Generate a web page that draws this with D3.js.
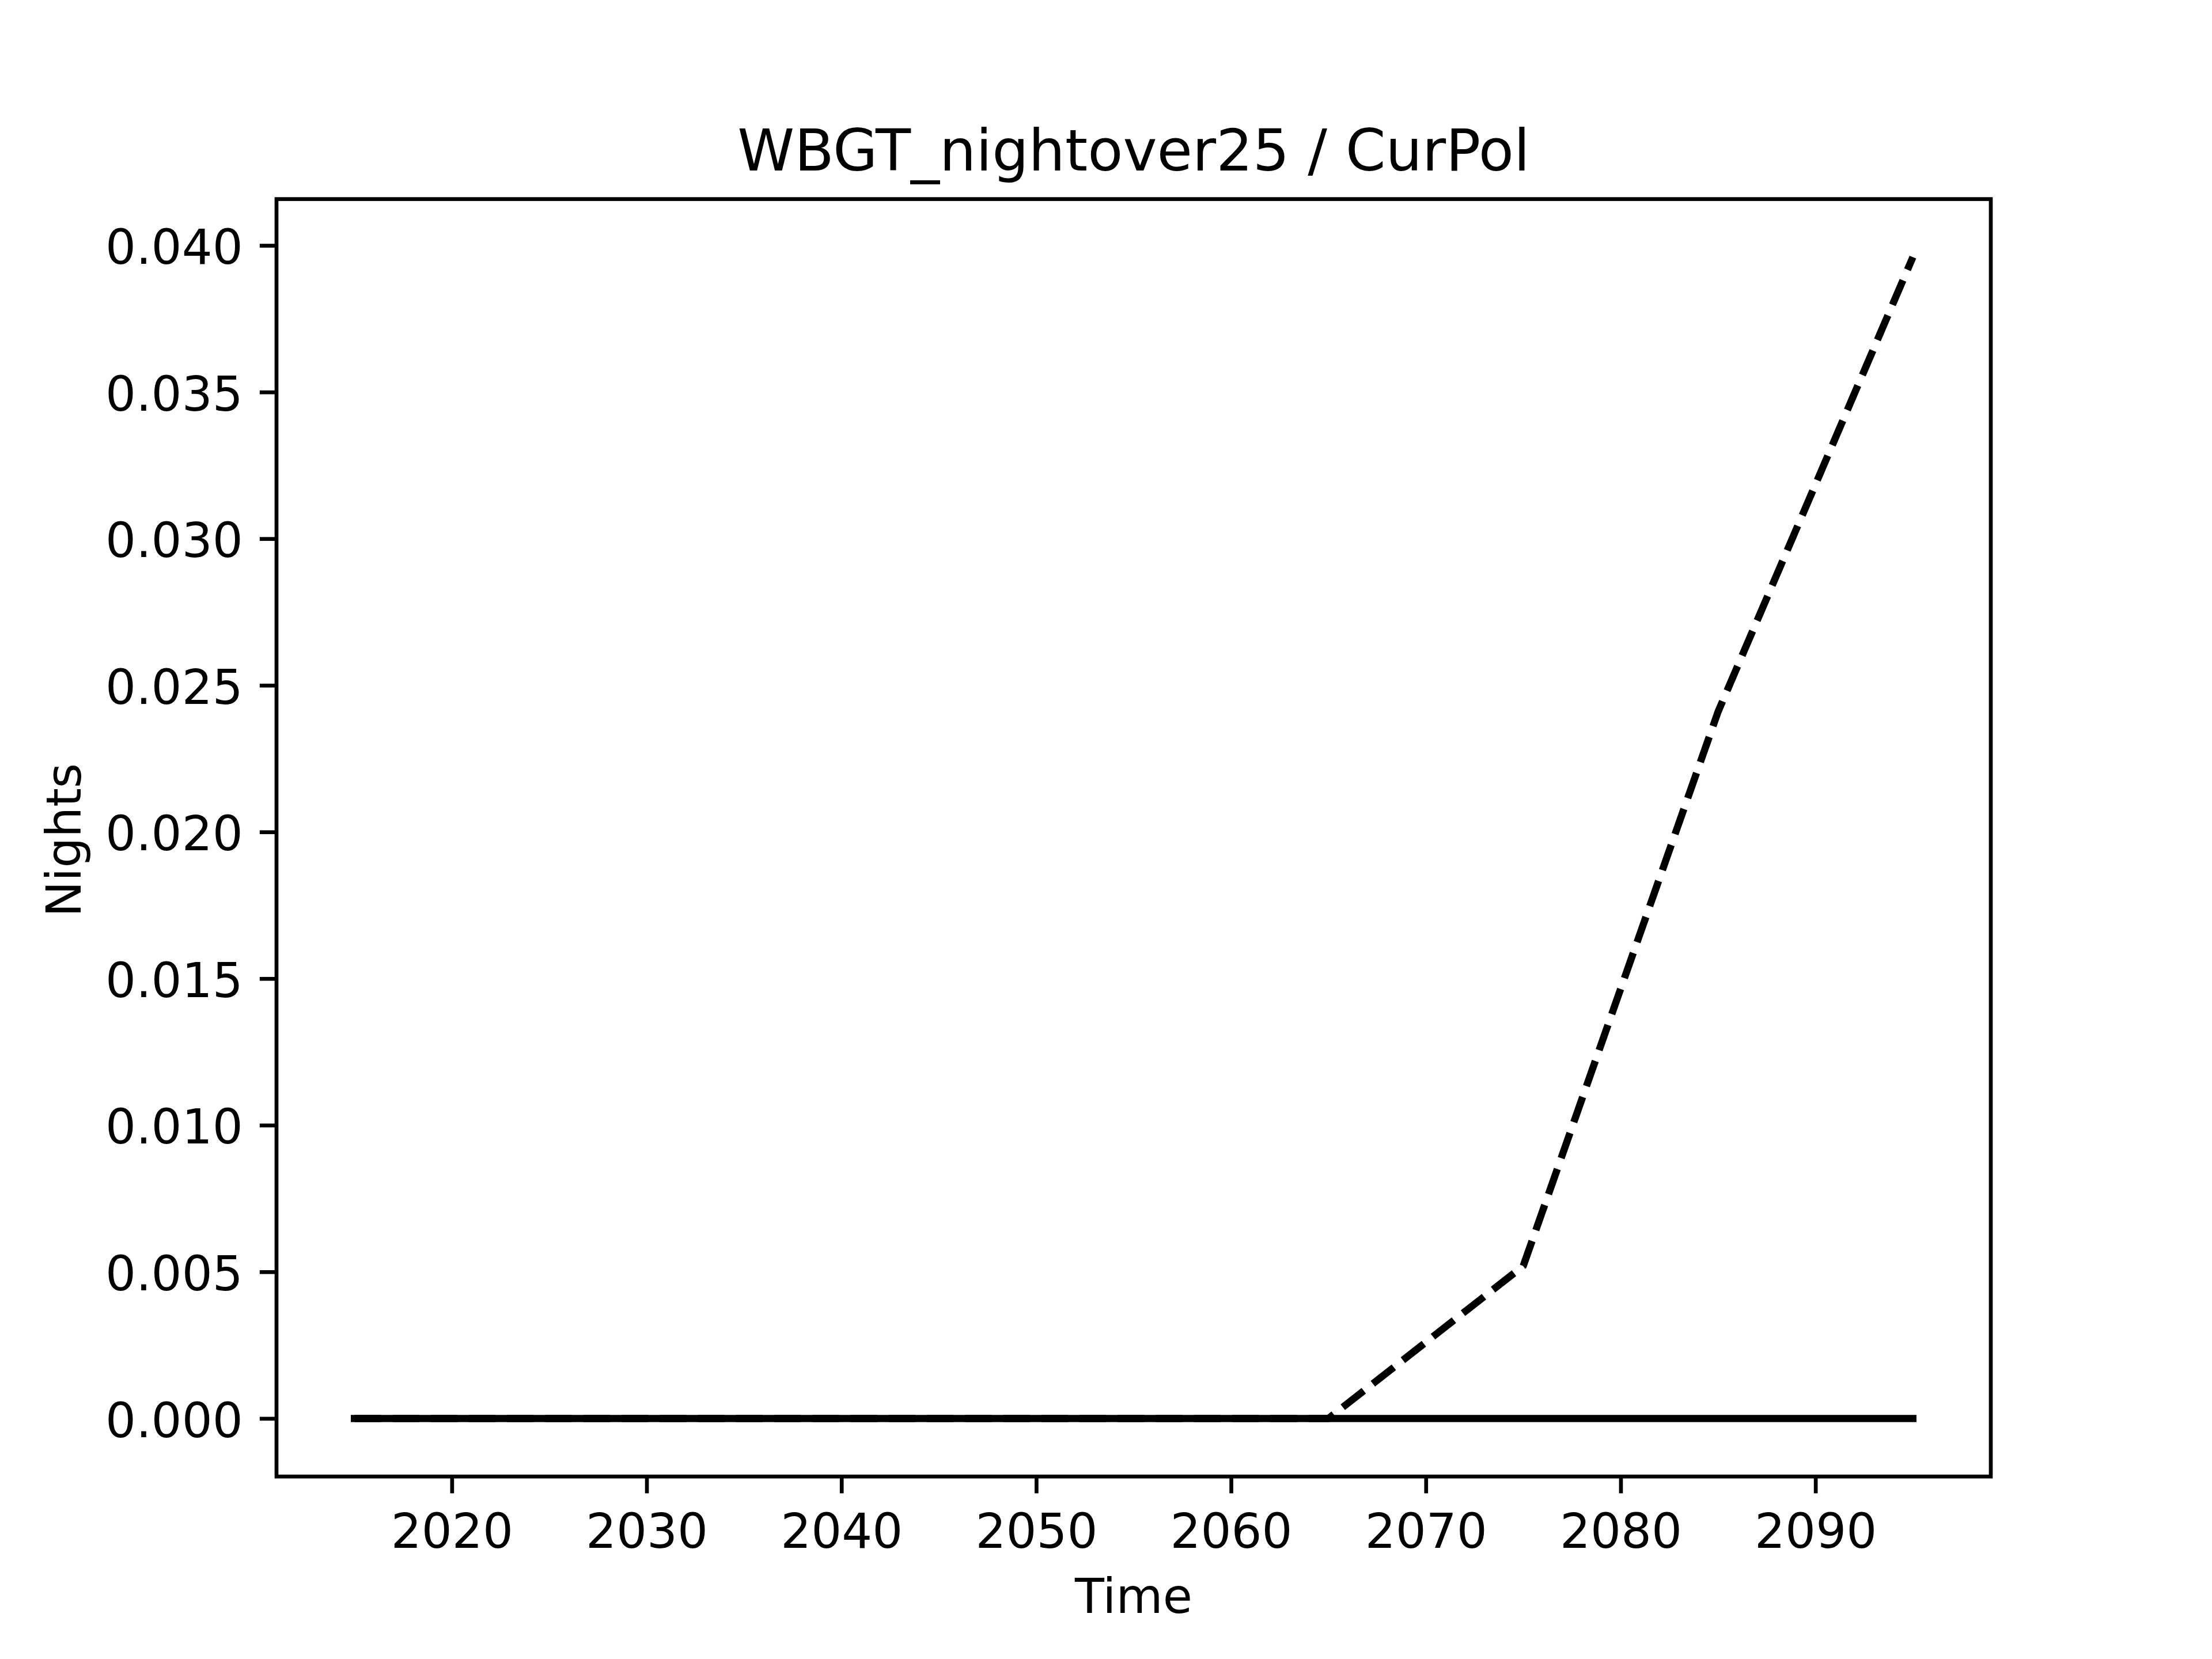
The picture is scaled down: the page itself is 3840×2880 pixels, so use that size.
<!DOCTYPE html>
<html>
<head>
<meta charset="utf-8">
<script src="https://cdn.jsdelivr.net/npm/d3@7/dist/d3.min.js"></script>
<style>
  html, body { margin: 0; padding: 0; background: #fff; }
  svg { display: block; }
  text { font-family: "DejaVu Sans", sans-serif; fill: #000; }
</style>
</head>
<body>
<script>
// ---- data ----
const years = [2015, 2025, 2035, 2045, 2055, 2065, 2075, 2085, 2095];
const dashedValues = [0, 0, 0, 0, 0, 0, 0.0052, 0.0241, 0.0396];
const solidValues = [0, 0, 0, 0, 0, 0, 0, 0, 0];
const xTickValues = [2020, 2030, 2040, 2050, 2060, 2070, 2080, 2090];
const yTickValues = [0, 0.005, 0.010, 0.015, 0.020, 0.025, 0.030, 0.035, 0.040];
const titleText = "WBGT_nightover25 / CurPol";
const xLabelText = "Time";
const yLabelText = "Nights";

(function () {
// ---- layout (matplotlib default at 600 dpi) ----
const W = 3840, H = 2880;
const axL = 480, axR = 3456, axT = 345.6, axB = 2563.2;
const pt = 600 / 72;
const fontSize = 10 * pt;
const titleSize = 12 * pt;
const tickLen = 3.5 * pt;
const tickPad = 3.5 * pt;
const spineW = 0.8 * pt;
const lineW = 1.5 * pt;

const svg = d3.select("body").append("svg").attr("width", W).attr("height", H);

const xMin = d3.min(years), xMax = d3.max(years);
const xPad = (xMax - xMin) * 0.05;
const allY = dashedValues.concat(solidValues);
const yMin = d3.min(allY), yMax = d3.max(allY);
const yPad = (yMax - yMin) * 0.05;

const x = d3.scaleLinear().domain([xMin - xPad, xMax + xPad]).range([axL, axR]);
const y = d3.scaleLinear().domain([yMin - yPad, yMax + yPad]).range([axB, axT]);

// lines
const line = d3.line().x(d => x(d[0])).y(d => y(d[1]));
svg.append("path")
  .datum(years.map((yr, i) => [yr, dashedValues[i]]))
  .attr("d", line)
  .attr("fill", "none").attr("stroke", "#000")
  .attr("stroke-width", lineW)
  .attr("stroke-dasharray", `${3.7 * lineW} ${1.6 * lineW}`)
  .attr("stroke-linecap", "butt").attr("stroke-linejoin", "round");
svg.append("path")
  .datum(years.map((yr, i) => [yr, solidValues[i]]))
  .attr("d", line)
  .attr("fill", "none").attr("stroke", "#000")
  .attr("stroke-width", lineW)
  .attr("stroke-linecap", "square").attr("stroke-linejoin", "round");

// axes
const xAxis = d3.axisBottom(x).tickValues(xTickValues).tickFormat(d3.format("d"))
  .tickSize(tickLen).tickPadding(tickPad);
const gx = svg.append("g").attr("transform", `translate(0,${axB})`).call(xAxis);
gx.select(".domain").remove();
gx.selectAll(".tick line").attr("stroke", "#000").attr("stroke-width", spineW);
gx.selectAll(".tick text").attr("font-size", fontSize)
  .attr("font-family", "DejaVu Sans").attr("fill", "#000")
  .attr("y", tickLen + tickPad).attr("dy", "0.79em");

const yAxis = d3.axisLeft(y).tickValues(yTickValues).tickFormat(d3.format(".3f"))
  .tickSize(tickLen).tickPadding(tickPad);
const gy = svg.append("g").attr("transform", `translate(${axL},0)`).call(yAxis);
gy.select(".domain").remove();
gy.selectAll(".tick line").attr("stroke", "#000").attr("stroke-width", spineW);
gy.selectAll(".tick text").attr("font-size", fontSize)
  .attr("font-family", "DejaVu Sans").attr("fill", "#000")
  .attr("dy", "0.38em");

// frame
svg.append("rect")
  .attr("x", axL).attr("y", axT)
  .attr("width", axR - axL).attr("height", axB - axT)
  .attr("fill", "none").attr("stroke", "#000").attr("stroke-width", spineW)
  .attr("stroke-linejoin", "miter");

// title & labels
svg.append("text")
  .attr("x", (axL + axR) / 2).attr("y", axT - 6 * pt)
  .attr("text-anchor", "middle").attr("font-size", titleSize)
  .text(titleText);
svg.append("text")
  .attr("x", (axL + axR) / 2).attr("y", 2800)
  .attr("text-anchor", "middle").attr("font-size", fontSize)
  .text(xLabelText);
svg.append("text")
  .attr("transform", `translate(140,${(axT + axB) / 2 + 4}) rotate(-90)`)
  .attr("text-anchor", "middle").attr("font-size", fontSize)
  .text(yLabelText);
})();
</script>
</body>
</html>
